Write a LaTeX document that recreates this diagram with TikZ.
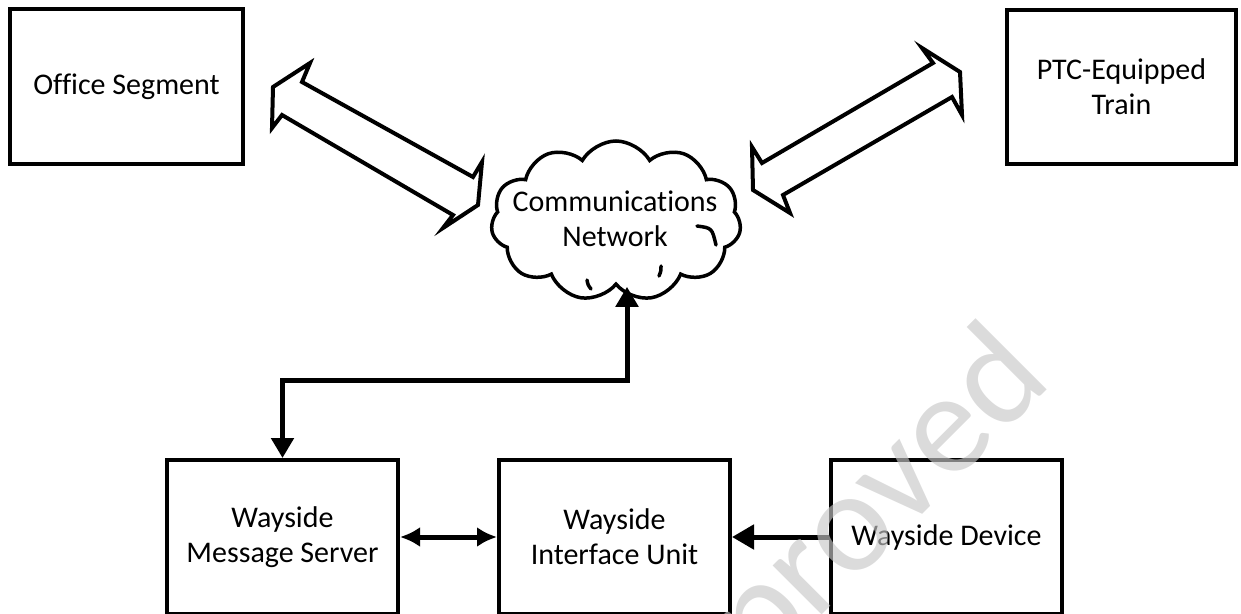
\documentclass[tikz,border=0pt]{standalone}
\usepackage{fontspec}
\setmainfont{Carlito}[Ligatures=NoCommon]
\usepackage{xcolor}
\usetikzlibrary{shapes.symbols}
\usetikzlibrary{arrows.meta}
\definecolor{wmgray}{RGB}{199,199,199}
\tikzset{blk/.style={draw, line width=4pt, align=center, inner sep=0pt,
   font=\fontsize{30}{35}\selectfont},
 lbl/.style={align=center, inner sep=0pt, font=\fontsize{30}{35}\selectfont},
 fat/.style={draw, line width=4pt, fill=white, line join=miter},
 conn/.style={line width=5pt},
 puff/.style={line width=3.5pt, line cap=round},
 wmark/.style={inner sep=0pt, text=wmgray, text opacity=0.64,
   font=\fontsize{145}{145}\selectfont},
 }

\begin{document}
\begin{tikzpicture}[x=1pt,y=-1pt]
        \useasboundingbox (0,0) rectangle (1241,613);
        \clip (0,0) rectangle (1241,613);
        \node[blk, minimum width=233pt, minimum height=155pt] (office) at (126.5,86.5) {Office Segment};
        \node[blk, minimum width=229pt, minimum height=154pt] (train) at (1121.5,87) {PTC-Equipped\\Train};
        \node[draw, cloud, cloud puffs=11, cloud puff arc=120, cloud ignores aspect, line width=3.5pt,
              minimum width=250pt, minimum height=160pt, inner sep=0pt] (cloudnet) at (616,221) {};
        \draw[puff] (697,226) .. controls (712,228) .. (716,245);
        \draw[puff] (587,280) .. controls (588,285) .. (591,289);
        \draw[puff] (661,266) .. controls (661,271) .. (659,276);
        \node[lbl] (cloudtxt) at (615,219) {Communications\\Network};
        \node[blk, minimum width=231pt, minimum height=154pt] (server) at (282.5,537) {Wayside\\Message Server};
        \node[blk, minimum width=231pt, minimum height=154pt] (wiu) at (614.5,537) {Wayside\\Interface Unit};
        \node[blk, minimum width=231pt, minimum height=154pt] (device) at (946.5,537) {Wayside Device};
        \draw[fat] (310,63) -- (302,82) -- (473,177) -- (482,162) -- (478,205)
              -- (443,228) -- (453,215) -- (282,115) -- (272,128) -- (273,87) -- cycle;
        \draw[fat] (922,48) -- (933,63) -- (762,163) -- (752,147) -- (753,190)
              -- (790,213) -- (783,195) -- (952,97) -- (962,115) -- (960,72) -- cycle;
        \coordinate (bend) at (627,380);
        \draw[conn, {Triangle[width=22pt,length=20pt]}-{Triangle[width=22pt,length=20pt]}]
              (cloudnet.south -| bend) -- (bend) -| (server.north);
        \draw[conn, {Latex[width=20pt,length=20pt]}-{Latex[width=20pt,length=20pt]}] (server.east) -- (wiu.west);
        \draw[conn, -{Triangle[width=24pt,length=22pt]}] (device.west) -- (wiu.east);
        \node[wmark, rotate=45, anchor=base west] (stamp) at (762,675) {proved};
\end{tikzpicture}
\end{document}
